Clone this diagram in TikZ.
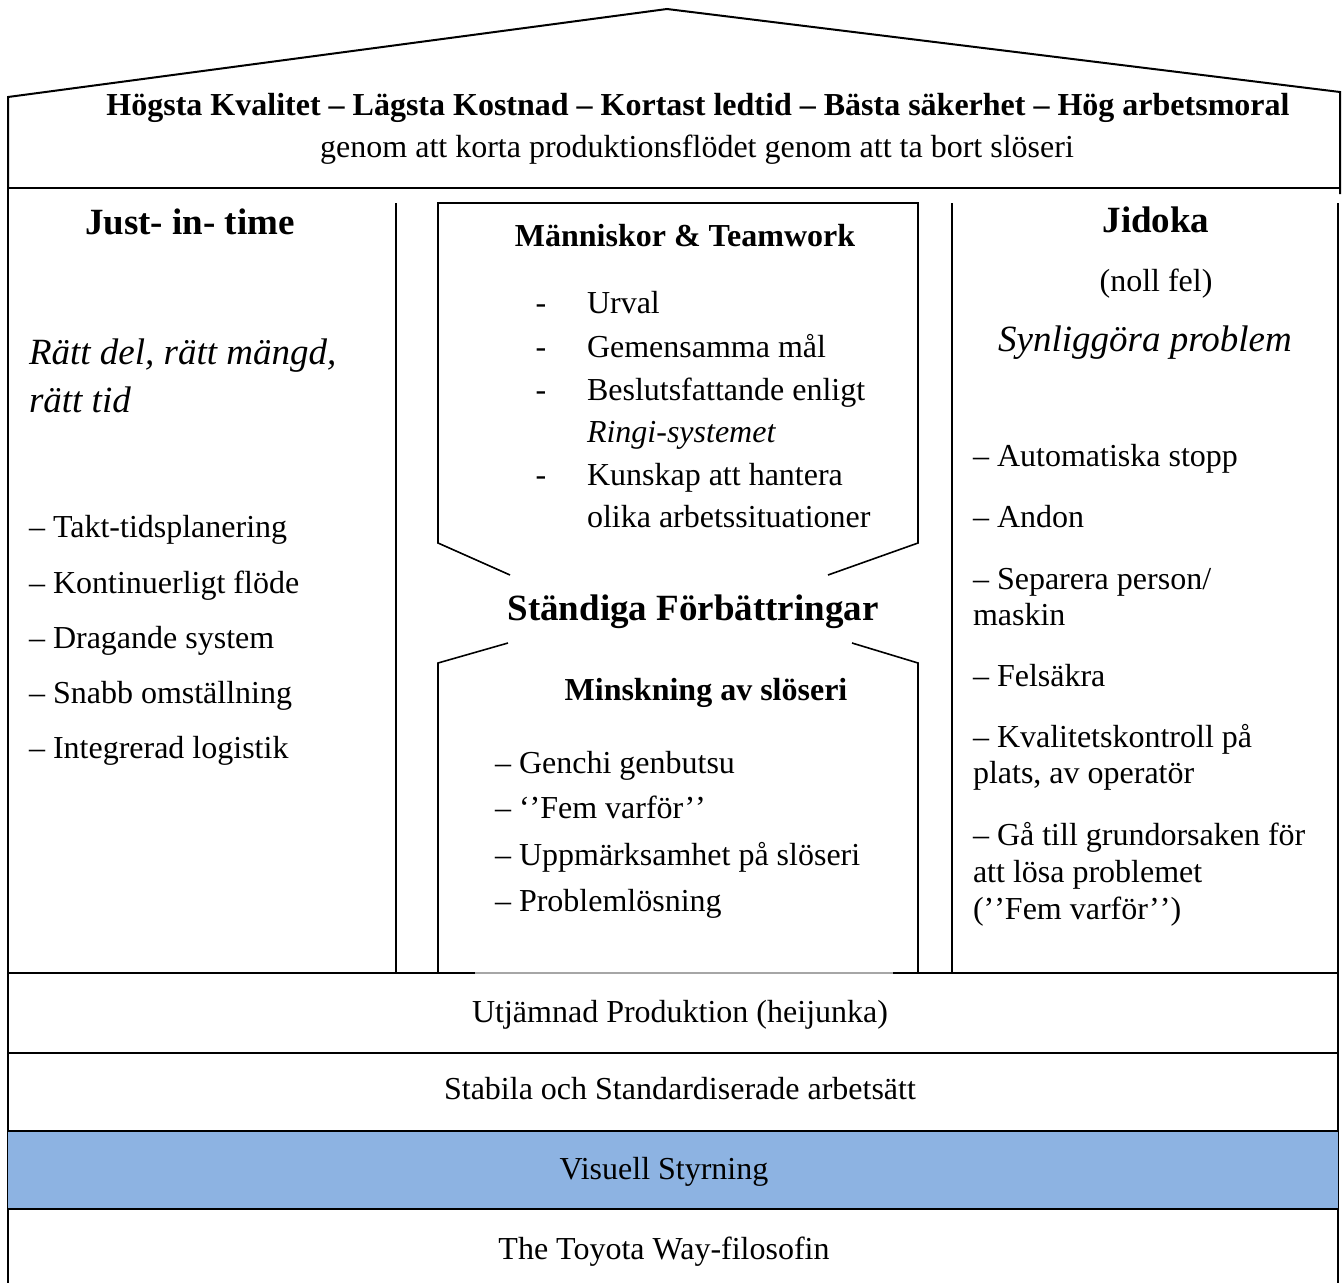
\documentclass[tikz,border=0pt]{standalone}
\usepackage{fontspec}
\setmainfont{Liberation Serif}
\definecolor{bandblue}{RGB}{141,179,226}
\begin{document}
\begin{tikzpicture}[x=1pt,y=-1pt,line width=2pt,line join=miter,
  txt/.style={inner sep=0pt,font=\fontsize{32}{38}\selectfont},
  txtb/.style={inner sep=0pt,font=\fontsize{32}{38}\selectfont\bfseries},
  head/.style={inner sep=0pt,font=\fontsize{37}{44}\selectfont\bfseries},
  headi/.style={inner sep=0pt,font=\fontsize{37}{44}\selectfont\itshape},
  item/.style={txt,anchor=base west},
  thin/.style={line width=1.6pt}]
\useasboundingbox (0,0) rectangle (1343,1283);

% roof and goal box
\draw (8,188) -- (8,97) -- (667,9) -- (1340,92) -- (1340,194);
\draw (8,188) -- (1340,188);

% outer walls
\draw (8,188) -- (8,1283);
\draw (1338,203) -- (1338,1283);

% pillars
\draw[thin] (396,203) -- (396,973);
\draw[thin] (952,203) -- (952,973);

% centre: people & teamwork (arrow pointing down)
\draw[thin] (510,575) -- (438,543) -- (438,203) -- (918,203) -- (918,543) -- (828,575);
% centre: waste reduction (arrow pointing up)
\draw[thin] (508,643) -- (438,663) -- (438,973);
\draw[thin] (852,643) -- (918,663) -- (918,973);

% foundation bands
\fill[bandblue] (8,1131) rectangle (1338,1209);
\draw (8,973) -- (475,973);
\draw[gray!70,line width=1.2pt] (475,973) -- (893,973);
\draw (893,973) -- (1338,973);
\draw (8,1053) -- (1338,1053);
\draw (8,1131) -- (1338,1131);
\draw (8,1209) -- (1338,1209);

% goal texts
\node[txtb,anchor=base] (goal) at (698,115) {Högsta Kvalitet – Lägsta Kostnad – Kortast ledtid – Bästa säkerhet – Hög arbetsmoral};
\node[txt,anchor=base] (goalsub) at (697,157) {genom att korta produktionsflödet genom att ta bort slöseri};

% left pillar: just-in-time
\node[head,anchor=base] (jit) at (190,234) {Just- in- time};
\node[headi,anchor=base west] (jit1) at (28,364) {Rätt del, rätt mängd,};
\node[headi,anchor=base west] (jit2) at (28,412) {rätt tid};
\node[item] (l1) at (28,537) {– Takt-tidsplanering};
\node[item] (l2) at (28,593) {– Kontinuerligt flöde};
\node[item] (l3) at (28,648) {– Dragande system};
\node[item] (l4) at (28,703) {– Snabb omställning};
\node[item] (l5) at (28,758) {– Integrerad logistik};

% centre top
\node[txtb,anchor=base] (team) at (685,246) {Människor \& Teamwork};
\node[txt,anchor=base] (d1) at (541,313) {-};
\node[txt,anchor=base] (d2) at (541,357) {-};
\node[txt,anchor=base] (d3) at (541,400) {-};
\node[txt,anchor=base] (d4) at (541,485) {-};
\node[item] (c1) at (586,313) {Urval};
\node[item] (c2) at (586,357) {Gemensamma mål};
\node[item] (c3) at (586,400) {Beslutsfattande enligt};
\node[item,font=\fontsize{32}{38}\selectfont\itshape] (c3b) at (586,442) {Ringi-systemet};
\node[item] (c4) at (586,485) {Kunskap att hantera};
\node[item] (c4b) at (586,527) {olika arbetssituationer};

% centre middle
\node[head,anchor=base] (kaizen) at (693,620) {Ständiga Förbättringar};

% centre bottom
\node[txtb,anchor=base] (waste) at (706,700) {Minskning av slöseri};
\node[item] (w1) at (494,773) {– Genchi genbutsu};
\node[item] (w2) at (494,818) {– ‘’Fem varför’\kern0pt’};
\node[item] (w3) at (494,865) {– Uppmärksamhet på slöseri};
\node[item] (w4) at (494,911) {– Problemlösning};

% right pillar: jidoka
\node[head,anchor=base] (jid) at (1156,232) {Jidoka};
\node[txt,anchor=base] (jid1) at (1156,291) {(noll fel)};
\node[headi,anchor=base] (jid2) at (1145,351) {Synliggöra problem};
\node[item] (r1) at (972,466) {– Automatiska stopp};
\node[item] (r2) at (972,527) {– Andon};
\node[item] (r3) at (972,589) {– Separera person/};
\node[item] (r3b) at (972,625) {maskin};
\node[item] (r4) at (972,686) {– Felsäkra};
\node[item] (r5) at (972,747) {– Kvalitetskontroll på};
\node[item] (r5b) at (972,783) {plats, av operatör};
\node[item] (r6) at (972,845) {– Gå till grundorsaken för};
\node[item] (r6b) at (972,882) {att lösa problemet};
\node[item] (r6c) at (972,919) {(’\kern0pt’Fem varför’\kern0pt’)};

% foundation texts
\node[txt,anchor=base] (b1) at (680,1022) {Utjämnad Produktion (heijunka)};
\node[txt,anchor=base] (b2) at (680,1099) {Stabila och Standardiserade arbetsätt};
\node[txt,anchor=base] (b3) at (664,1179) {Visuell Styrning};
\node[txt,anchor=base] (b4) at (664,1259) {The Toyota Way-filosofin};
\end{tikzpicture}
\end{document}
